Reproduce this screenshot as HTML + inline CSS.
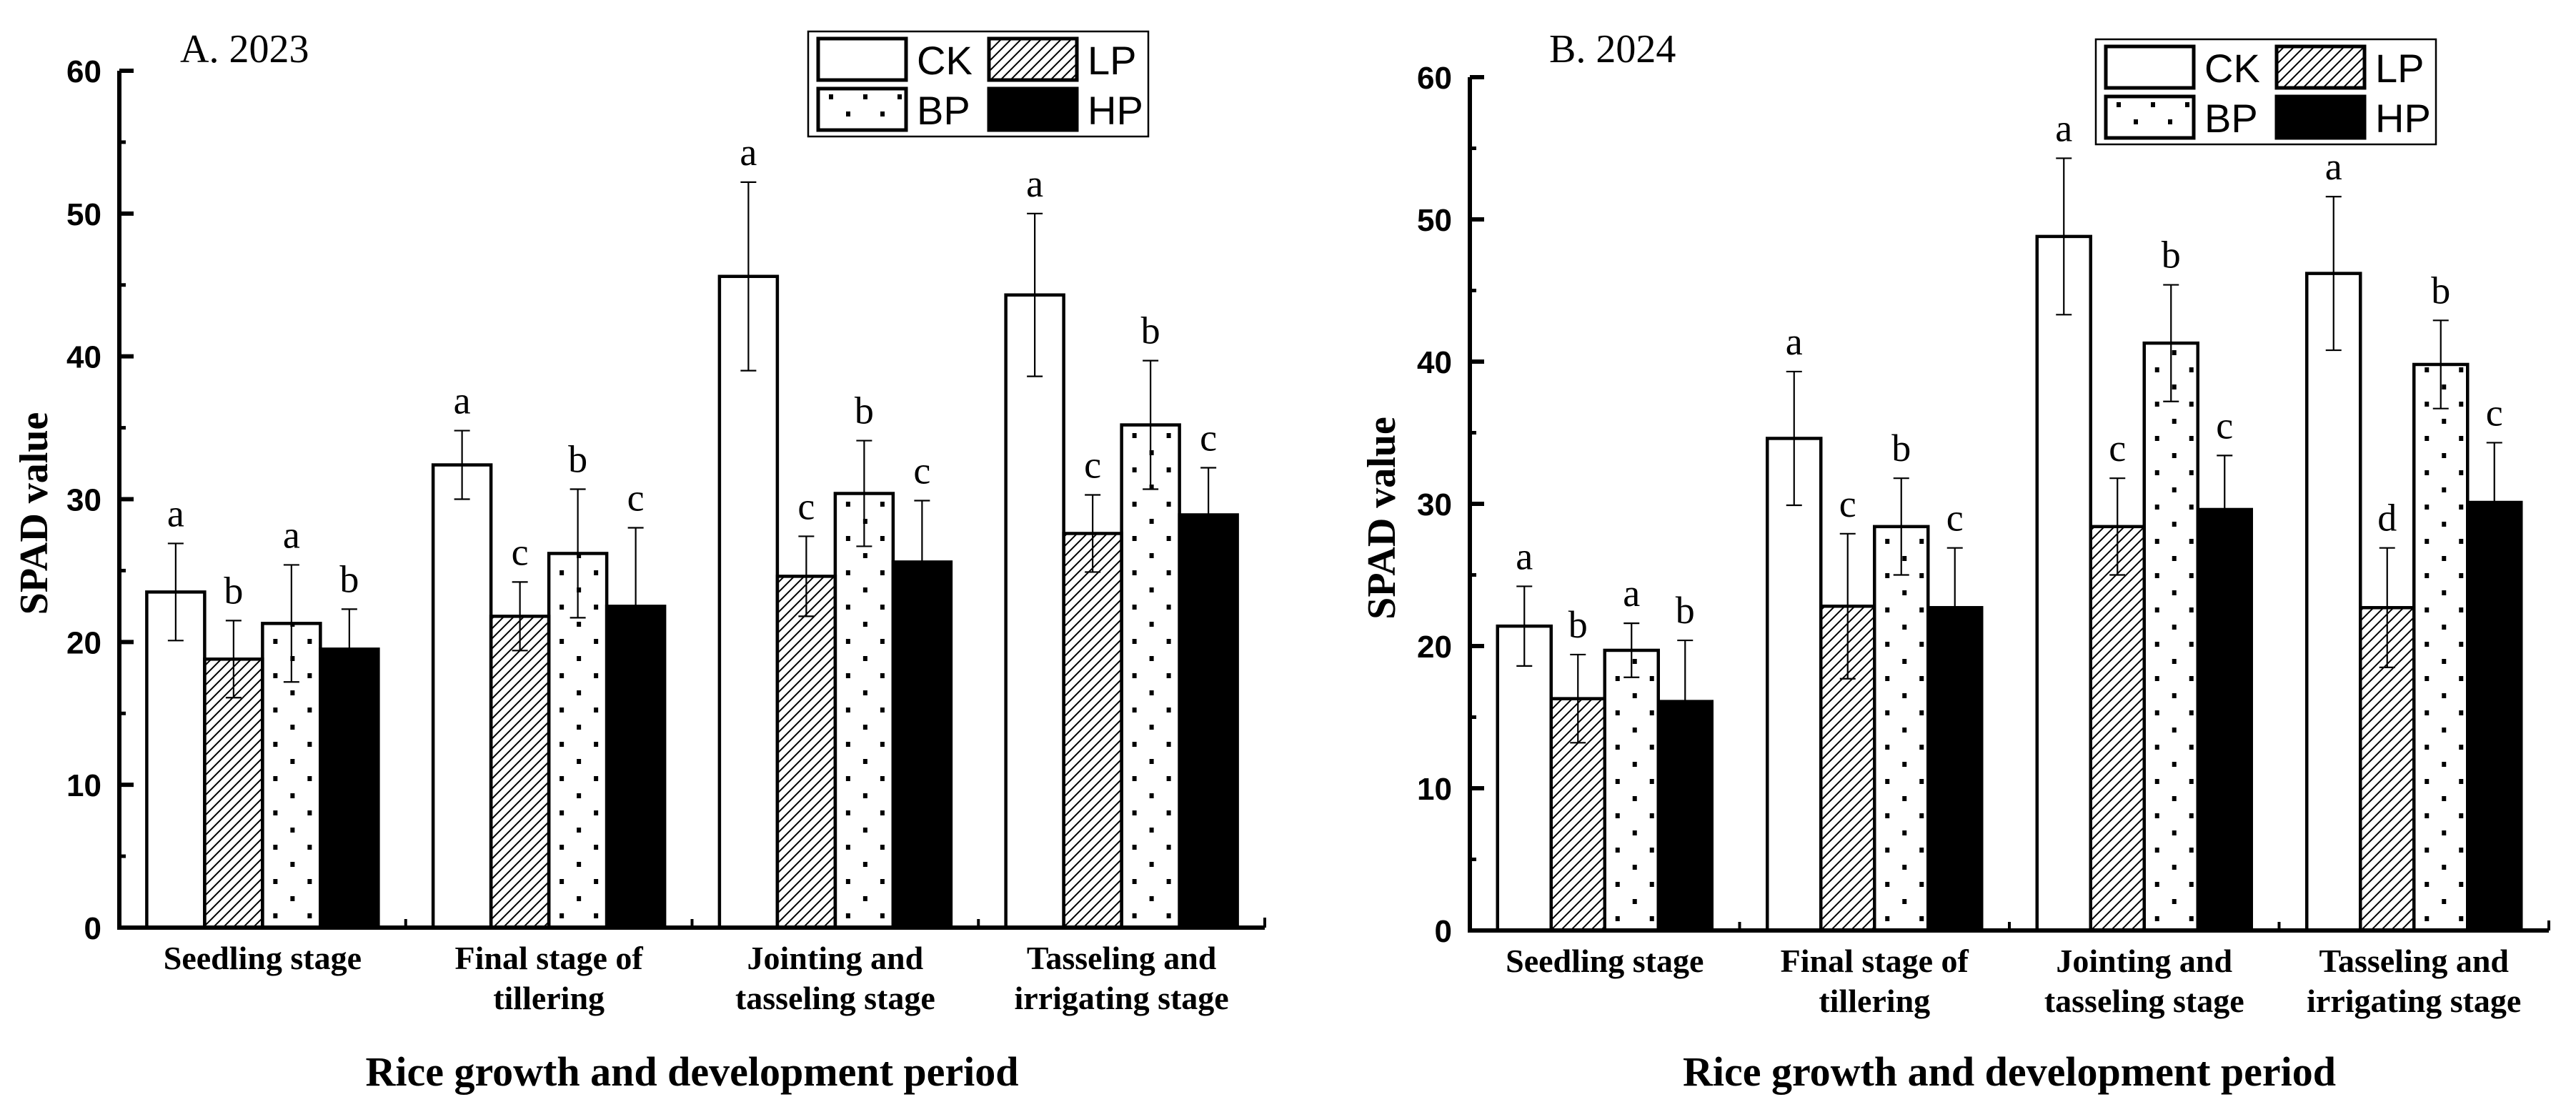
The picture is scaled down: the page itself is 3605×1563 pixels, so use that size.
<!DOCTYPE html>
<html><head><meta charset="utf-8"><style>
html,body{margin:0;padding:0;background:#fff;}
svg{display:block;}
</style></head><body>
<svg id="chart" width="3605" height="1563" viewBox="0 0 3605 1563" xmlns="http://www.w3.org/2000/svg">
<defs id="defs">
<pattern id="hatch" patternUnits="userSpaceOnUse" width="14" height="14">
<path d="M-2,16 L16,-2 M-2,2 L2,-2 M12,16 L16,12" stroke="#000" stroke-width="2"/>
</pattern>
</defs>
<g id="root"></g>
</svg>
<script>
const categories = ["Seedling stage|", "Final stage of|tillering", "Jointing and|tasseling stage", "Tasseling and|irrigating stage"];
const seriesNames = ["CK", "LP", "BP", "HP"];
const yTicks = [0, 10, 20, 30, 40, 50, 60];
// 2023
const ckA = [23.5, 32.4, 45.6, 44.3];
const lpA = [18.8, 21.8, 24.6, 27.6];
const bpA = [21.3, 26.2, 30.4, 35.2];
const hpA = [19.5, 22.5, 25.6, 28.9];
const ckAErr = [3.4, 2.4, 6.6, 5.7];
const lpAErr = [2.7, 2.4, 2.8, 2.7];
const bpAErr = [4.1, 4.5, 3.7, 4.5];
const hpAErr = [2.8, 5.5, 4.3, 3.3];
const lettersA = [["a","b","a","b"],["a","c","b","c"],["a","c","b","c"],["a","c","b","c"]];
// 2024
const ckB = [21.4, 34.6, 48.8, 46.2];
const lpB = [16.3, 22.8, 28.4, 22.7];
const bpB = [19.7, 28.4, 41.3, 39.8];
const hpB = [16.1, 22.7, 29.6, 30.1];
const ckBErr = [2.8, 4.7, 5.5, 5.4];
const lpBErr = [3.1, 5.1, 3.4, 4.2];
const bpBErr = [1.9, 3.4, 4.1, 3.1];
const hpBErr = [4.3, 4.2, 3.8, 4.2];
const lettersB = [["a","b","a","b"],["a","c","b","c"],["a","c","b","c"],["a","d","b","c"]];

const NS = "http://www.w3.org/2000/svg";
const root = document.getElementById("root");
const defs = document.getElementById("defs");
let patCount = 0;
function mk(tag, attrs, parent, text) {
  const e = document.createElementNS(NS, tag);
  for (const k in attrs) e.setAttribute(k, attrs[k]);
  if (text !== undefined) e.textContent = text;
  (parent || root).appendChild(e);
  return e;
}
function dotPattern(ox, oy) {
  const id = "dots" + (patCount++);
  const p = mk("pattern", {id: id, patternUnits: "userSpaceOnUse", width: 48, height: 48, x: ox, y: oy}, defs);
  mk("rect", {x: 0, y: 0, width: 6, height: 7, fill: "#000"}, p);
  mk("rect", {x: 24, y: 24, width: 6, height: 7, fill: "#000"}, p);
  return "url(#" + id + ")";
}
function fillFor(s, bx, by) {
  if (s === 0) return "#fff";
  if (s === 1) return "url(#hatch)";
  if (s === 2) return dotPattern(bx + 15, by);
  return "#000";
}
const serif = '"Liberation Serif", serif';
const sans = '"Liberation Sans", sans-serif';

function panel(cfg) {
  const g = mk("g", {});
  
  
  const {x0, x1, y0, y60} = cfg;
  const yS = v => y0 - (y0 - y60) * v / 60;
  const gw = (x1 - x0) / categories.length;
  const bw = cfg.bw;
  const series = cfg.series, errs = cfg.errs;
  for (let c = 0; c < categories.length; c++) {
    const cx = x0 + gw * (c + 0.5);
    for (let s = 0; s < 4; s++) {
      const bx = cx - 2 * bw + s * bw;
      const v = series[s][c];
      const r = mk("rect", {x: bx, y: yS(v), width: bw, height: y0 - yS(v), fill: fillFor(s, bx, y0 - 20), stroke: "#000", "stroke-width": 4.5}, g);
      
      
      const mx = bx + bw / 2, e = errs[s][c];
      const eb = mk("path", {d: `M${mx},${yS(v - e)}V${yS(v + e)}M${mx - 11},${yS(v + e)}H${mx + 11}M${mx - 11},${yS(v - e)}H${mx + 11}`, stroke: "#000", "stroke-width": 2.2, fill: "none"}, g);
      
      
      const t = mk("text", {x: mx, y: yS(v + e) - 24, "text-anchor": "middle", "font-family": serif, "font-size": 54}, g, cfg.letters[c][s]);
      
      
    }
    const lines = categories[c].split("|");
    lines.forEach((ln, i) => {
      if (!ln) return;
      const t = mk("text", {x: cx, y: y0 + 58 + i * 56, "text-anchor": "middle", "font-family": serif, "font-weight": "bold", "font-size": 46}, g, ln);
      
      
    });
    if (c > 0) mk("line", {x1: x0 + gw * c, x2: x0 + gw * c, y1: y0, y2: y0 - 12, stroke: "#000", "stroke-width": 4}, g);
  }
  const ax = mk("path", {d: `M${x0},${y60}V${y0}H${x1}`, stroke: "#000", "stroke-width": 6, fill: "none"}, g);
  
  
  mk("line", {x1: x1, x2: x1, y1: y0, y2: y0 - 14, stroke: "#000", "stroke-width": 4}, g);
  yTicks.forEach(v => {
    mk("line", {x1: x0, x2: x0 + 20, y1: yS(v), y2: yS(v), stroke: "#000", "stroke-width": 6}, g);
    if (v < 60) mk("line", {x1: x0, x2: x0 + 9, y1: yS(v + 5), y2: yS(v + 5), stroke: "#000", "stroke-width": 5}, g);
    const t = mk("text", {x: x0 - 25, y: yS(v) + 16, "text-anchor": "end", "font-family": sans, "font-weight": "bold", "font-size": 44}, g, v);
    
    
  });
  const yt = mk("text", {transform: `translate(${cfg.ytx},${(y0 + y60) / 2 + 20}) rotate(-90)`, "text-anchor": "middle", "font-family": serif, "font-weight": "bold", "font-size": 56}, g, "SPAD value");
  
  
  const xt = mk("text", {x: (x0 + x1) / 2, y: 1519, "text-anchor": "middle", "font-family": serif, "font-weight": "bold", "font-size": 58}, g, "Rice growth and development period");
  
  
  const pt = mk("text", {x: cfg.tx, y: cfg.ty, "font-family": serif, "font-size": 56}, g, cfg.title);
  
  
  const L = cfg.leg;
  const lg = mk("g", {}, g);
  
  
  mk("rect", {x: L.x, y: L.y, width: 476, height: 147, fill: "#fff", stroke: "#000", "stroke-width": 2.5}, lg);
  for (let s = 0; s < 4; s++) {
    const col = s % 2, row = s < 2 ? 0 : 1;
    const ex = L.x + 12 + col * 239, ey = L.y + 8 + row * 70;
    const it = mk("g", {}, lg);
    
    
    mk("rect", {x: ex + 2, y: ey + 2, width: 123, height: 58, fill: fillFor(s, ex + 2, ey + 10), stroke: "#000", "stroke-width": 5}, it);
    mk("text", {x: ex + 140, y: ey + 52, "font-family": sans, "font-size": 56}, it, seriesNames[s]);
  }
}

panel({name: "panel-2023", x0: 167, x1: 1770, y0: 1298, y60: 99, bw: 81,
  series: [ckA, lpA, bpA, hpA], errs: [ckAErr, lpAErr, bpAErr, hpAErr], letters: lettersA,
  ytx: 66, title: "A. 2023", tx: 252, ty: 87, leg: {x: 1131, y: 44}});
panel({name: "panel-2024", x0: 2057, x1: 3567, y0: 1302, y60: 108, bw: 75,
  series: [ckB, lpB, bpB, hpB], errs: [ckBErr, lpBErr, bpBErr, hpBErr], letters: lettersB,
  ytx: 1952, title: "B. 2024", tx: 2168, ty: 87, leg: {x: 2933, y: 55}});
</script>
</body></html>
